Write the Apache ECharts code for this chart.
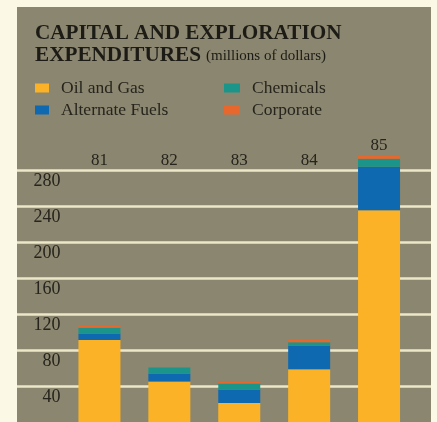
<!DOCTYPE html>
<html>
<head>
<meta charset="utf-8">
<script src="https://cdn.jsdelivr.net/npm/echarts@6/dist/echarts.min.js"></script>
<style>
html,body{margin:0;padding:0;background:#fbf9e5;}
#c{width:437px;height:422px;}
</style>
</head>
<body>
<div id="c"></div>
<script>
const years = ['81', '82', '83', '84', '85'];
const oilAndGas = [91.2, 45.1, 21.2, 58.7, 235.2];
const alternateFuels = [6.8, 8.4, 14.7, 26.1, 48.4];
const chemicals = [6.6, 7.1, 7.0, 3.9, 8.8];
const corporate = [2.2, 0, 1.8, 2.7, 3.3];
const yTicks = [40, 80, 120, 160, 200, 240, 280];
// category whose label sits on top of its (tall) bar instead of on the axis line
const raisedLabel = '85';

const serif = '"Liberation Serif", "Times New Roman", serif';
const ink = '#26241c';
const colors = {oil: '#fbb226', alt: '#0f69b0', chem: '#1b9589', corp: '#e8672c'};

const chart = echarts.init(document.getElementById('c'), null, {renderer: 'canvas'});

function mk(name, data, color, topLabel) {
  return {
    name: name, type: 'bar', stack: 'total',
    data: data.map(function (v, i) {
      const item = {value: v};
      if (topLabel && years[i] === raisedLabel) {
        item.label = {
          show: true, position: 'top', distance: 2, formatter: '{b}',
          fontFamily: serif, fontSize: 17, color: ink, lineHeight: 17
        };
      }
      return item;
    }),
    xAxisIndex: 1, yAxisIndex: 1, barWidth: 42, clip: false,
    itemStyle: {color: color}, z: 5
  };
}

chart.setOption({
  backgroundColor: '#fbf9e5',
  animation: false,
  graphic: [{
    type: 'rect', left: 17, top: 7, shape: {width: 414, height: 420},
    style: {fill: '#8b8670'}, z: -10, silent: true
  }],
  title: {
    left: 35, top: 23, padding: 0,
    text: '{b|CAPITAL AND EXPLORATION}\n{b|EXPENDITURES} {s|(millions of dollars)}',
    textStyle: {
      rich: {
        b: {fontFamily: serif, fontWeight: 'bold', fontSize: 21.2, color: '#1d1b15', lineHeight: 22},
        s: {fontFamily: serif, fontWeight: 'normal', fontSize: 15, color: '#1d1b15', lineHeight: 22}
      }
    }
  },
  legend: [{
    data: ['Oil and Gas', 'Alternate Fuels'],
    orient: 'vertical', left: 35, top: 77, padding: 0, itemGap: 0,
    itemWidth: 14, itemHeight: 9, icon: 'rect',
    textStyle: {fontFamily: serif, fontSize: 17.5, color: ink, lineHeight: 22, padding: [0, 0, 0, 7]}
  }, {
    data: ['Chemicals', 'Corporate'],
    orient: 'vertical', left: 224, top: 77, padding: 0, itemGap: 0,
    itemWidth: 16, itemHeight: 9, icon: 'rect',
    textStyle: {fontFamily: serif, fontSize: 17.5, color: ink, lineHeight: 22, padding: [0, 0, 0, 7]}
  }],
  grid: [
    {left: 17, top: 170, width: 414, height: 254.3},
    {left: 64.5, top: 170, width: 349.5, height: 254.3}
  ],
  xAxis: [
    {gridIndex: 0, type: 'category', data: years, show: false},
    {
      gridIndex: 1, type: 'category', data: years, position: 'top',
      axisLine: {show: false}, axisTick: {show: false}, splitLine: {show: false},
      axisLabel: {
        margin: 1, fontFamily: serif, fontSize: 17, color: ink, lineHeight: 17,
        formatter: function (v) { return v === raisedLabel ? '' : v; }
      }
    }
  ],
  yAxis: [
    {
      gridIndex: 0, type: 'value', min: 0, max: 280, interval: 40,
      axisLine: {show: false}, axisTick: {show: false}, axisLabel: {show: false},
      splitLine: {show: true, showMinLine: false, lineStyle: {color: '#ede7ca', width: 2.5}}
    },
    {
      gridIndex: 1, type: 'value', min: 0, max: 280, interval: 40,
      axisLine: {show: false}, axisTick: {show: false}, splitLine: {show: false},
      axisLabel: {
        margin: 4, fontFamily: serif, fontSize: 18, color: ink, lineHeight: 18,
        verticalAlign: 'top', padding: [2, 0, 0, 0], showMinLabel: false,
        formatter: function (v) { return yTicks.indexOf(v) >= 0 ? String(v) : ''; }
      }
    }
  ],
  series: [
    mk('Oil and Gas', oilAndGas, colors.oil, false),
    mk('Alternate Fuels', alternateFuels, colors.alt, false),
    mk('Chemicals', chemicals, colors.chem, false),
    mk('Corporate', corporate, colors.corp, true)
  ]
});
</script>
</body>
</html>
